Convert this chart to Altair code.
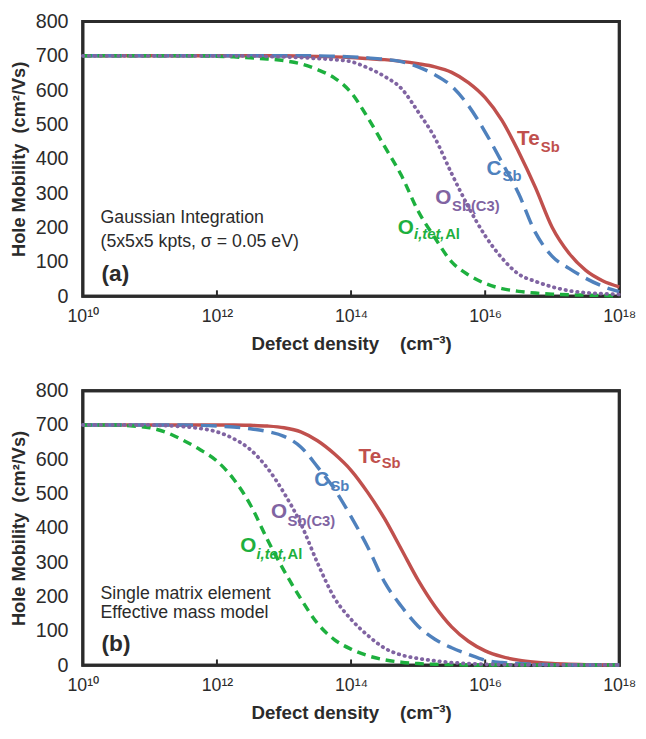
import altair as alt
import pandas as pd

# log10 of defect density (cm^-3)
EXPS = [10.0, 10.25, 10.5, 10.75, 11.0, 11.25, 11.5, 11.75, 12.0, 12.25, 12.5,
        12.75, 13.0, 13.25, 13.5, 13.75, 14.0, 14.25, 14.5, 14.75, 15.0, 15.25,
        15.5, 15.75, 16.0, 16.25, 16.5, 16.75, 17.0, 17.25, 17.5, 17.75, 18.0]

# Panel (a): Gaussian integration
te_a = [700, 700, 700, 700, 700, 700, 700, 700, 700, 700, 700, 700, 700,
        699, 698, 697, 695, 692, 689, 684, 677, 668, 652, 622, 578, 512,
        420, 316, 200, 125, 75, 45, 27]
c_a = [700, 700, 700, 700, 700, 700, 700, 700, 700, 700, 700, 700, 700, 700, 700,
       699, 697, 694, 690, 683, 668, 645, 612, 555, 478, 390, 298, 185, 116,
       81, 52, 29, 13]
osb_a = [700, 700, 700, 700, 700, 700, 700, 700, 700, 700, 700,
         698, 697, 695, 692, 689, 683, 665, 640, 605, 537, 461, 357, 260,
         176, 111, 64, 43, 27, 16, 10, 7, 5]
oi_a = [700, 700, 700, 700, 700, 700, 700, 700,
        699, 697, 694, 691, 686, 677, 660, 636, 593, 520, 436, 352, 248,
        170, 100, 62, 37, 22, 14, 9, 6, 4, 3, 2, 1]

# Panel (b): single matrix element, effective mass model
te_b = [700, 700, 700, 700, 700, 700, 700, 700, 700,
        700, 699, 697, 692, 680, 654, 616, 568, 503, 427, 338, 248, 172,
        112, 70, 42, 25, 15, 9, 5, 3, 2, 1, 1]
c_b = [700, 700, 700, 700, 700, 700, 700,
       699, 697, 694, 689, 681, 667, 636, 578, 514, 433, 344, 242, 172, 114,
       76, 51, 32, 15, 8, 5, 3, 2, 1, 1, 1, 1]
osb_b = [700, 700, 700, 700, 700,
         698, 695, 690, 680, 660, 628, 575, 502, 413, 298, 197, 134, 87, 50,
         30, 20, 13, 8, 5, 3, 2, 1, 1, 1, 1, 1, 1, 1]
oi_b = [700, 700, 700,
        697, 692, 678, 655, 628, 595, 542, 467, 367, 276, 194, 122, 75, 47,
        28, 16, 9, 5, 3, 2, 1, 1, 1, 1, 1, 1, 1, 1, 1, 1]

RED = "#C0504D"
BLUE = "#4F81BD"
PURPLE = "#8064A2"
GREEN = "#1DB03E"
TXT = "#2b2b2b"
FRAME = "#2b2b2b"
FONT = "Liberation Sans"
NB = "\u00a0"

X_MIN_EXP, X_MAX_EXP = 10, 18
Y_MIN, Y_MAX = 0, 800
TICK_EXPS = [10, 12, 14, 16, 18]
INNER_TICK_EXPS = [12, 14, 16]
TICK_LEN = 17
Y_TICKS = [0, 100, 200, 300, 400, 500, 600, 700, 800]

# curve labels: text, log10 x, y (baseline), color, font size, style
labels_a = [
    ("Te", 16.476, 439, RED, 21, "normal"), ("Sb", 16.83, 421, RED, 15, "normal"),
    ("C", 16.02, 353, BLUE, 21, "normal"), ("Sb", 16.26, 334, BLUE, 15, "normal"),
    ("O", 15.257, 267, PURPLE, 21, "normal"), ("Sb(C3)", 15.507, 247, PURPLE, 15, "normal"),
    ("O", 14.695, 181, GREEN, 21, "normal"), ("i,tet,", 14.94, 166, GREEN, 15, "italic"),
    ("Al", 15.404, 166, GREEN, 15, "normal"),
]
labels_b = [
    ("Te", 14.112, 589, RED, 21, "normal"), ("Sb", 14.457, 574, RED, 15, "normal"),
    ("C", 13.451, 523, BLUE, 21, "normal"), ("Sb", 13.693, 509, BLUE, 15, "normal"),
    ("O", 12.805, 429, PURPLE, 21, "normal"), ("Sb(C3)", 13.054, 406, PURPLE, 15, "normal"),
    ("O", 12.349, 329, GREEN, 21, "normal"), ("i,tet,", 12.589, 311, GREEN, 15, "italic"),
    ("Al", 13.054, 311, GREEN, 15, "normal"),
]
notes_a = [("Gaussian Integration", 10.264, 212, 18, "normal"),
           ("(5x5x5 kpts, σ = 0.05 eV)", 10.264, 143, 18, "normal"),
           ("(a)", 10.28, 44, 23, "bold")]
notes_b = [("Single matrix element", 10.264, 194, 18, "normal"),
           ("Effective mass model", 10.264, 137, 18, "normal"),
           ("(b)", 10.28, 43, 23, "bold")]

sup = {10: "¹⁰", 12: "¹²", 14: "¹⁴", 16: "¹⁶", 18: "¹⁸"}
label_expr = "'10' + (" + " : ".join(
    f"(round(log(datum.value)/LN10) == {k}) ? '{v}'" for k, v in sup.items()
) + " : '')"

xscale = alt.Scale(type="log", domain=[10.0 ** X_MIN_EXP, 10.0 ** X_MAX_EXP], nice=False)
yscale = alt.Scale(domain=[Y_MIN, Y_MAX], nice=False)
xaxis = alt.Axis(values=[10.0 ** e for e in TICK_EXPS], labelExpr=label_expr,
                 ticks=False, domain=False, grid=False, labelFlush=False,
                 labelOverlap=False, labelFontSize=18, labelColor=TXT,
                 labelPadding=12, labelFont=FONT,
                 title="Defect density" + NB * 4 + "(cm⁻³)", titleFontSize=19,
                 titleFontWeight="bold", titleColor=TXT, titlePadding=9,
                 titleFont=FONT)
yaxis = alt.Axis(values=Y_TICKS, ticks=False, domain=False, grid=False,
                 labelFontSize=20, labelColor=TXT, labelPadding=15,
                 labelFont=FONT, title="Hole Mobility" + NB * 2 + "(cm²/Vs)",
                 titleFontSize=18.5, titleFontWeight="bold", titleColor=TXT,
                 titlePadding=7, titleFont=FONT)

X = alt.X("density:Q", scale=xscale, axis=xaxis)
Y = alt.Y("mobility:Q", scale=yscale, axis=yaxis)


def series_df(vals):
    return pd.DataFrame({"density": [10.0 ** e for e in EXPS], "mobility": vals})


def panel(te, c, osb, oi, labels, notes):
    layers = []
    # plot frame: closed path along the domain corners
    x0, x1 = 10.0 ** X_MIN_EXP, 10.0 ** X_MAX_EXP
    frame_df = pd.DataFrame({"density": [x0, x1, x1, x0, x0],
                             "mobility": [Y_MIN, Y_MIN, Y_MAX, Y_MAX, Y_MIN],
                             "k": [0, 1, 2, 3, 4]})
    layers.append(alt.Chart(frame_df).mark_line(
        color=FRAME, strokeWidth=3, strokeCap="square", strokeJoin="miter"
    ).encode(x=X, y=Y, order="k:Q"))
    # inward ticks on the x axis
    tick_rows = []
    for i, e in enumerate(INNER_TICK_EXPS):
        tick_rows.append({"density": 10.0 ** e, "mobility": Y_MIN, "tick": i, "k": 0})
        tick_rows.append({"density": 10.0 ** e, "mobility": TICK_LEN, "tick": i, "k": 1})
    layers.append(alt.Chart(pd.DataFrame(tick_rows)).mark_line(
        color=FRAME, strokeWidth=2
    ).encode(x=X, y=Y, detail="tick:N", order="k:Q"))
    specs = [
        (te, RED, None, 3.5, "butt"),
        (c, BLUE, [16, 8], 3.5, "butt"),
        (oi, GREEN, [9, 6], 3.5, "butt"),
        (osb, PURPLE, [0.5, 5.5], 3.8, "round"),
    ]
    for vals, color, dash, w, cap in specs:
        kw = dict(color=color, strokeWidth=w, strokeCap=cap, interpolate="monotone")
        if dash is not None:
            kw["strokeDash"] = dash
        layers.append(alt.Chart(series_df(vals)).mark_line(**kw).encode(x=X, y=Y))
    for text, ex, yv, color, size, style in labels:
        d = pd.DataFrame({"density": [10.0 ** ex], "mobility": [yv]})
        layers.append(alt.Chart(d).mark_text(
            text=text, align="left", baseline="alphabetic", color=color,
            fontSize=size, fontWeight="bold", fontStyle=style, font=FONT
        ).encode(x=X, y=Y))
    for text, ex, yv, size, weight in notes:
        d = pd.DataFrame({"density": [10.0 ** ex], "mobility": [yv]})
        layers.append(alt.Chart(d).mark_text(
            text=text, align="left", baseline="alphabetic", color=TXT,
            fontSize=size, fontWeight=weight, font=FONT
        ).encode(x=X, y=Y))
    return alt.layer(*layers).properties(width=545, height=279)


top = panel(te_a, c_a, osb_a, oi_a, labels_a, notes_a)
bottom = panel(te_b, c_b, osb_b, oi_b, labels_b, notes_b)

chart = alt.vconcat(top, bottom, spacing=24).properties(
    padding={"left": 0, "top": -4, "right": 0, "bottom": 0}
).configure(font=FONT).configure_view(stroke=FRAME, strokeWidth=3)

chart.save("out.html", embed_options={"renderer": "svg", "actions": False})
